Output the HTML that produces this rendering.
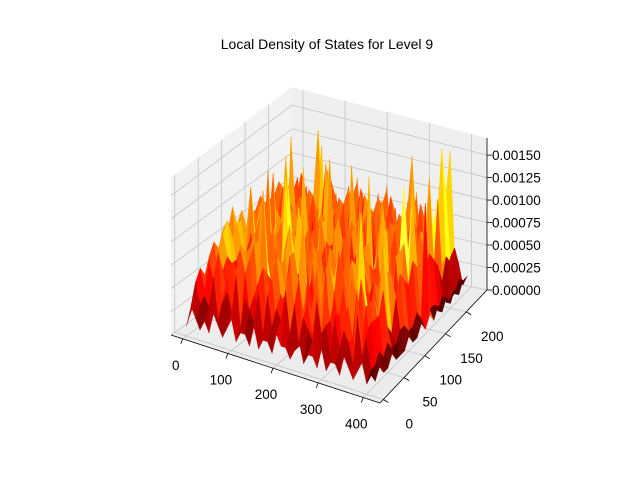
<!DOCTYPE html>
<html><head><meta charset="utf-8"><style>
html,body{margin:0;padding:0;background:#fff;}
svg{display:block;font-family:"Liberation Sans","DejaVu Sans",sans-serif;}
</style></head><body>
<svg id="chart" width="640" height="480" viewBox="0 0 640 480" xmlns="http://www.w3.org/2000/svg">
<rect width="640" height="480" fill="#fff"/>
<text x="327" y="49" text-anchor="middle" font-size="14" fill="#000">Local Density of States for Level 9</text>
<g id="panes"></g>
<g id="surf"></g>
<g id="axes"></g>
</svg>
<script>
// data: heights in units of 0.0001, hex digits, rows = y values, columns = x values
const xStart = 0, xStep = 10;
const yStart = 0, yStep = 10;
const zRows = [
"132121321231221312213221231221312213212312",
"253436245372543626354736254374526354273521",
"364758263497354827364958263748536274935622",
"257386374958263749527364859263748596273631",
"368497263859374628593746285937462859374621",
"4579A6374859E63748596D374859637485F6374832",
"25738647596374859B6374859637A859637485C421",
"368497358627493F58627493586274935862749321",
"47A59638472958394C7295839472958F9472958631",
"258637492E58372958394725839472958394C25832",
"3694725836A92583F926B8394725839472D8394721",
"247B5839472F58394725839472958394725839A621",
"3586947258E94725839472A839472F5839472F5832",
"258394C258394725839F725839472583947258E721",
"369472583947A58394725839472583C472583947D2",
"25839472F8394725839472E8394725839472583621",
"368472583947258D9472583947258394725B394722",
"2483947258394E258394725839472583947258E611",
"3594725839472583947258A94725839472583D4522",
"24838472583947258394725839472583947258B311",
"358472583E472583947258394725839E7258394512",
"2473947258394725839472583947258394725F3411",
"3584725839472583947258394725839472583A4522",
"2347258394725839472583947258394725839E4312"
];
const zTicks = [0, 0.00025, 0.0005, 0.00075, 0.001, 0.00125, 0.0015];
const zTickLabels = ["0.00000","0.00025","0.00050","0.00075","0.00100","0.00125","0.00150"];
const xTicks = [0, 100, 200, 300, 400];
const yTicks = [0, 50, 100, 150, 200];

const XMIN=-26, XMAX=437, YMIN=-8, YMAX=250, ZMAX=0.00169, VMAX=0.00125;
const L=[171,335], F=[380,403], R=[487,290], B=[292,248];
const HL=157, HF=150, HR=152, HB=161;
function proj(x,y,z){
  const u=(x-XMIN)/(XMAX-XMIN), v=(y-YMIN)/(YMAX-YMIN);
  const w=[(1-u)*(1-v), u*(1-v), u*v, (1-u)*v];
  const px=w[0]*L[0]+w[1]*F[0]+w[2]*R[0]+w[3]*B[0];
  const py=w[0]*L[1]+w[1]*F[1]+w[2]*R[1]+w[3]*B[1];
  const h=w[0]*HL+w[1]*HF+w[2]*HR+w[3]*HB;
  return [px, py - z/ZMAX*h*1.12];
}
function hot(t){
  t=Math.max(0,Math.min(1,t));
  const r=Math.min(1,t/0.365), g=Math.max(0,Math.min(1,(t-0.365)/0.381)), b=Math.max(0,Math.min(1,(t-0.746)/0.254))*0.4;
  return `rgb(${Math.round(r*255)},${Math.round(g*255)},${Math.round(b*255)})`;
}
const NS="http://www.w3.org/2000/svg";
function mk(tag,attrs,parent){const e=document.createElementNS(NS,tag);for(const k in attrs)e.setAttribute(k,attrs[k]);parent.appendChild(e);return e;}
const panes=document.getElementById('panes'), surf=document.getElementById('surf'), axes=document.getElementById('axes');
function pts(a){return a.map(p=>p[0].toFixed(1)+','+p[1].toFixed(1)).join(' ');}
const ZS=1/1.12;

const floor=mk('polygon',{points:pts([proj(XMIN,YMIN,0),proj(XMAX,YMIN,0),proj(XMAX,YMAX,0),proj(XMIN,YMAX,0)]),fill:'#ececec',stroke:'none'},panes);


const lp=mk('polygon',{points:pts([proj(XMIN,YMIN,0),proj(XMIN,YMAX,0),proj(XMIN,YMAX,ZMAX*ZS),proj(XMIN,YMIN,ZMAX*ZS)]),fill:'#f2f2f2',stroke:'none'},panes);


const bp=mk('polygon',{points:pts([proj(XMIN,YMAX,0),proj(XMAX,YMAX,0),proj(XMAX,YMAX,ZMAX*ZS),proj(XMIN,YMAX,ZMAX*ZS)]),fill:'#efefef',stroke:'none'},panes);


const gs={stroke:'#c4c4c4','stroke-width':0.8};
function line(a,b,st,par,name){const l=mk('line',Object.assign({x1:a[0],y1:a[1],x2:b[0],y2:b[1]},st),par);return l;}
zTicks.forEach(z=>{
  line(proj(XMIN,YMIN,z*ZS),proj(XMIN,YMAX,z*ZS),gs,panes,'z-gridline');
  line(proj(XMIN,YMAX,z*ZS),proj(XMAX,YMAX,z*ZS),gs,panes,'z-gridline');
});
xTicks.forEach(x=>{
  line(proj(x,YMIN,0),proj(x,YMAX,0),gs,panes,'x-gridline');
  line(proj(x,YMAX,0),proj(x,YMAX,ZMAX*ZS),gs,panes,'x-gridline');
});
yTicks.forEach(y=>{
  line(proj(XMIN,y,0),proj(XMAX,y,0),gs,panes,'y-gridline');
  line(proj(XMIN,y,0),proj(XMIN,y,ZMAX*ZS),gs,panes,'y-gridline');
});

// surface
const ny=zRows.length, nx=zRows[0].length;
const Z=zRows.map(r=>r.split('').map(c=>parseInt(c,16)*0.0001));
const cells=[];
for(let j=0;j<ny-1;j++)for(let i=0;i<nx-1;i++)cells.push([i,j]);
cells.sort((a,b)=>((a[0]/nx)-(a[1]/ny))-((b[0]/nx)-(b[1]/ny)));
cells.forEach(([i,j])=>{
  const x0=xStart+i*xStep,x1=x0+xStep,y0=yStart+j*yStep,y1=y0+yStep;
  const z00=Z[j][i],z10=Z[j][i+1],z11=Z[j+1][i+1],z01=Z[j+1][i];
  const zmax=Math.max(z00,z10,z11,z01);
  const avg=(z00+z10+z11+z01)/4;
  const shade=1-Math.max(0,Math.min(0.35,(z01+z11-z00-z10)/0.004));
  const c=hot((0.75*avg+0.25*zmax)/VMAX*shade);
  const p=mk('polygon',{points:pts([proj(x0,y0,z00),proj(x1,y0,z10),proj(x1,y1,z11),proj(x0,y1,z01)]),fill:c,stroke:c,'stroke-width':0.3},surf);
  
  
});

const ax={stroke:'#000','stroke-width':0.8};
line(proj(XMIN,YMIN,0),proj(XMAX,YMIN,0),ax,axes,'x-axis-line');
line(proj(XMAX,YMIN,0),proj(XMAX,YMAX,0),ax,axes,'y-axis-line');
line(proj(XMAX,YMAX,0),proj(XMAX,YMAX,ZMAX*ZS),ax,axes,'z-axis-line');
function txt(x,y,s,anchor,name){const t=mk('text',{x:x,y:y,'font-size':13.5,'text-anchor':anchor,fill:'#000'},axes);t.textContent=s;}
xTicks.forEach(x=>{
  const a=proj(x,YMIN,0);
  line([a[0],a[1]],[a[0]-2,a[1]+5],ax,axes,'x-tick');
  txt(a[0]-7,a[1]+31,String(x),'middle','x-tick-label');
});
yTicks.forEach(y=>{
  const a=proj(XMAX,y,0);
  line([a[0],a[1]],[a[0]+5,a[1]+3],ax,axes,'y-tick');
  txt(a[0]+26,a[1]+29,String(y),'middle','y-tick-label');
});
zTicks.forEach((z,k)=>{
  const a=proj(XMAX,YMAX,z*ZS);
  line([a[0],a[1]],[a[0]+5,a[1]],ax,axes,'z-tick');
  txt(a[0]+5,a[1]+5,zTickLabels[k],'start','z-tick-label');
});
</script>
</body></html>
